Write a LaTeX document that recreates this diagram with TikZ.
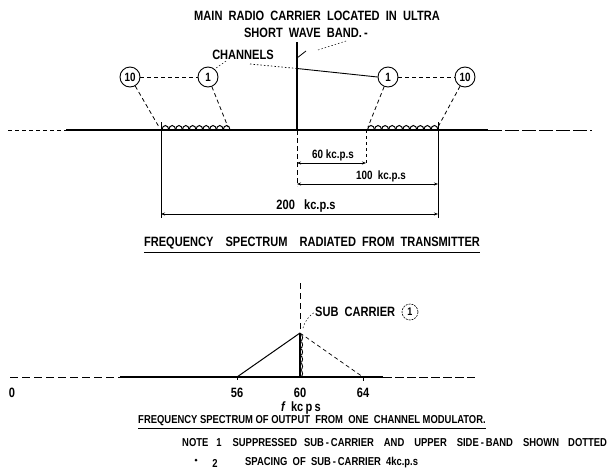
\documentclass[tikz,border=0pt]{standalone}
\usepackage{fontspec}
\setmainfont{Liberation Sans}[FakeStretch=0.82]
\usetikzlibrary{arrows.meta}
\begin{document}
\begin{tikzpicture}[x=1pt,y=-1pt,
  lbl/.style={font=\bfseries\fontsize{13.5}{15}\selectfont, inner sep=0pt},
  mid/.style={font=\bfseries\fontsize{12}{14}\selectfont, inner sep=0pt},
  note/.style={font=\bfseries\fontsize{11.5}{13}\selectfont, inner sep=0pt},
  circ/.style={circle, draw, line width=0.9pt, minimum size=20pt, inner sep=0pt, font=\bfseries\fontsize{12}{13}\selectfont},
  dsh/.style={line width=0.8pt, dash pattern=on 4pt off 3pt},
  ddot/.style={line width=0.5pt, dash pattern=on 1.5pt off 2pt},
  base/.style={line width=1.1pt},
  dimline/.style={line width=0.8pt, {Stealth[length=4pt,width=3pt]}-{Stealth[length=4pt,width=3pt]}},
  ul/.style={line width=0.8pt}
]
\useasboundingbox (0,0) rectangle (616,472);

% ---------- titles ----------
\node[lbl] (t1) at (317,16) {MAIN\ \ RADIO\ \ CARRIER\ \ LOCATED\ \ IN\ \ ULTRA};
\node[lbl] (t2) at (306,33) {SHORT\ \ WAVE\ \ BAND.\,-};
\node[lbl] (chan) at (243,55) {CHANNELS};

% ---------- main carrier ----------
\draw[line width=2pt] (297,42) -- (297,130);
\coordinate (tk1) at (297,58);
\coordinate (tk2) at (306,51);
\draw[line width=0.8pt] (tk1) -- (tk2);
\coordinate (ld1) at (318,50);
\coordinate (ld2) at (346,41);
\draw[ddot] (ld1) -- (ld2);

% ---------- top baseline ----------
\coordinate (bl0) at (8,130);
\coordinate (bl1) at (66,130);
\coordinate (bl2) at (488,130);
\coordinate (bl3) at (592,130);
\draw[dsh,line width=1pt] (bl0) -- (bl1);
\draw[base] (bl1) -- (bl2);
\draw[line width=1pt, dash pattern=on 14pt off 3pt] (bl2) -- (bl3);

% ---------- side bands (scalloped) ----------
\foreach \i in {0,...,9} {
  \draw[line width=1pt] ({162+6.8*\i},130) arc[start angle=180,end angle=360,x radius=3.4,y radius=4.5];
}
\foreach \i in {0,...,9} {
  \draw[line width=1pt] ({367.5+7.05*\i},130) arc[start angle=180,end angle=360,x radius=3.52,y radius=4.5];
}

% ---------- channel circles ----------
\node[circ] (c10L) at (130,77) {10};
\node[circ] (c1L) at (208,77) {1};
\node[circ] (c1R) at (388,77) {1};
\node[circ] (c10R) at (465,77) {10};
\draw[dsh] (c10L) -- (c1L);
\draw[dsh] (c1R) -- (c10R);
\coordinate (eL10) at (159,127);
\coordinate (eL1) at (228,127);
\coordinate (eR1) at (368,127);
\coordinate (eR10) at (438,127);
\draw[dsh] (c10L) -- (eL10);
\draw[dsh] (c1L) -- (eL1);
\draw[dsh] (c1R) -- (eR1);
\draw[dsh] (c10R) -- (eR10);

% channels leaders
\coordinate (chA) at (226,61);
\draw[ddot] (chA) -- (c1L.50);
\coordinate (chB) at (250,64);
\coordinate (chK) at (297,68.5);
\draw[ddot,line width=0.7pt] (chB) -- (chK);
\draw[line width=0.9pt] (chK) -- (c1R.west);

% ---------- dimension verticals ----------
\coordinate (vL0) at (161,122);
\coordinate (vL1) at (161,218);
\coordinate (vR0) at (438,122);
\coordinate (vR1) at (438,218);
\draw[line width=0.8pt] (vL0) -- (vL1);
\draw[line width=0.8pt] (vR0) -- (vR1);
\coordinate (vC0) at (297,130);
\coordinate (vC1) at (297,186);
\draw[line width=0.7pt, dash pattern=on 5pt off 3pt] (vC0) -- (vC1);
\coordinate (v60a) at (366,130);
\coordinate (v60b) at (366,165);
\draw[line width=0.6pt, dash pattern=on 3pt off 3pt] (v60a) -- (v60b);

% ---------- dimension lines ----------
\coordinate (d60a) at (297,163);
\coordinate (d60b) at (366,163);
\draw[dimline] (d60a) -- (d60b);
\node[mid] (l60) at (333,155) {60\ kc.p.s};
\coordinate (d100a) at (297,184);
\coordinate (d100b) at (438,184);
\draw[dimline] (d100a) -- (d100b);
\node[mid] (l100) at (381,176) {100\ \ kc.p.s};
\coordinate (d200a) at (161,214);
\coordinate (d200b) at (438,214);
\draw[dimline] (d200a) -- (d200b);
\node[lbl] (l200) at (306,206) {200\ \ \ kc.p.s};

\node[lbl] (t3) at (312,243) {FREQUENCY\hspace{12pt}SPECTRUM\hspace{12pt}RADIATED\hspace{6pt}FROM\hspace{6pt}TRANSMITTER};
\draw[ul] ([yshift=-3pt]t3.south west) -- ([yshift=-3pt]t3.south east);

% ---------- lower diagram ----------
\coordinate (bb0) at (10,377);
\coordinate (bb1) at (120,377);
\coordinate (bb2) at (383,377);
\coordinate (bb3) at (475,377);
\draw[line width=1pt, dash pattern=on 8pt off 4pt] (bb0) -- (bb1);
\draw[base] (bb1) -- (bb2);
\draw[line width=1pt, dash pattern=on 9pt off 3pt] (bb2) -- (bb3);
\node[lbl] (zero) at (12,393) {0};

\coordinate (pk) at (300,333);
\coordinate (f56) at (237,377);
\coordinate (f60) at (300,377);
\coordinate (f64) at (363,377);
\coordinate (vtop) at (300,283);
\draw[line width=0.7pt, dash pattern=on 6pt off 4pt] (vtop) -- (pk);
\draw[line width=1pt] (f56) -- (pk);
\draw[line width=2pt] (pk) -- (f60);
\draw[line width=0.7pt, dash pattern=on 4pt off 3pt] (pk) -- (f64);
\foreach \i in {0,...,5} {
  \draw[line width=0.9pt] (300,{334+7.2*\i}) arc[start angle=270,end angle=450,x radius=2.6,y radius=3.6];
}
\draw[line width=0.7pt] (f56) -- ++(0,3);
\draw[line width=0.7pt] (f64) -- ++(0,4);

\node[lbl] (n56) at (237,393) {56};
\node[lbl] (n60) at (300,393) {60};
\node[lbl] (n64) at (363,393) {64};
\node[lbl] (fk) at (301,408) {{\itshape f}\ \ kc\,p\,s};

\node[lbl,anchor=west] (sub) at (315,312) {SUB\ \ CARRIER};
\node[circle, draw, line width=0.6pt, dash pattern=on 2pt off 1pt, minimum size=16pt, inner sep=0pt, font=\bfseries\fontsize{11}{12}\selectfont] (c1S) at (410,312) {1};
\coordinate (sbA) at (303,328);
\draw[ddot] (sbA) to[bend left=20] (sub.west);

\node[note] (t4) at (312,421) {FREQUENCY\ SPECTRUM\ OF\ OUTPUT\ \ FROM\ \ ONE\ \ CHANNEL\ MODULATOR.};
\draw[ul] ([yshift=-2.5pt]t4.south west) -- ([yshift=-2.5pt]t4.south east);

\node[note,anchor=west] (n1) at (182,443) {NOTE\hspace{8pt}1\hspace{11pt}SUPPRESSED\hspace{7pt}SUB\,-\,CARRIER\hspace{10pt}AND\hspace{10pt}UPPER\hspace{10pt}SIDE\,-\,BAND\hspace{10pt}SHOWN\hspace{9pt}DOTTED};
\fill (196,460) circle[radius=1.5pt];
\node[note] (n2n) at (215,463) {2};
\node[note,anchor=west] (n2) at (245,463) {SPACING\ \ OF\ \ SUB\,-\,CARRIER\ \ 4kc.p.s};
\end{tikzpicture}
\end{document}
